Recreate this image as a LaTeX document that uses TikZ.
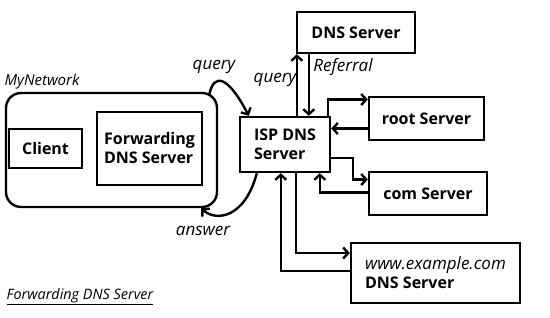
\documentclass[tikz,border=0pt]{standalone}
\usepackage{fontspec}
\setmainfont{Open Sans}
\usepackage{tikz}
\usetikzlibrary{calc, arrows.meta}

\tikzset{
    box/.style={draw, line width=2.4pt, font=\bfseries\fontsize{16}{19}\selectfont, inner sep=0pt},
    arr/.style={line width=2.4pt, -{Straight Barb[length=5pt, width=11pt]}},
    lbl/.style={font=\itshape\fontsize{17}{19}\selectfont, inner sep=0pt}
}

\begin{document}
\begin{tikzpicture}[x=1pt, y=-1pt]
    \useasboundingbox[fill=white] (0,0) rectangle (550,318);

    \node[box, rounded corners=15pt, minimum width=211pt, minimum height=114pt] (mynet) at (111.5,150) {};
    \node[box, minimum width=73pt, minimum height=39pt] (client) at (45.5,148.5) {Client};
    \node[box, minimum width=105pt, minimum height=73pt, align=left] (fwd) at (149.5,148.5) {Forwarding\\DNS Server};
    \node[box, minimum width=90pt, minimum height=55pt, align=left] (isp) at (285,144.5) {ISP DNS\\Server};
    \node[box, minimum width=118pt, minimum height=41pt] (topdns) at (356,32.5) {DNS Server};
    \node[box, minimum width=115pt, minimum height=43pt] (root) at (426.5,118.5) {root Server};
    \node[box, minimum width=118pt, minimum height=43pt] (com) at (428,193.5) {com Server};
    \node[box, minimum width=169pt, minimum height=60pt, align=left] (www) at (435.5,273)
        {{\mdseries\itshape\fontsize{17}{19}\selectfont www.example.com}\\DNS Server};

    \node[lbl, font=\itshape\fontsize{15}{17}\selectfont] (netname) at (42,82) {MyNetwork};
    \node[lbl] (q1) at (214,67) {query};
    \node[lbl] (q2) at (275,80) {query};
    \node[lbl] (ref) at (343,67) {Referral};
    \node[lbl] (ans) at (203,231) {answer};
    \node[lbl, font=\itshape\fontsize{14.4}{16}\selectfont] (caption) at (80,297) {\underline{Forwarding DNS Server}};

    \draw[arr] ($(mynet.north east)+(-9,3)$) .. controls (214,72) and (228,76) .. ($(isp.north west)+(10,0)$);
    \draw[arr] ($(isp.south west)+(18,0)$) .. controls (245,218) and (216,222) .. ($(mynet.south east)+(-17,0)$);

    \coordinate (up) at ($(isp.north west)+(58,0)$);
    \coordinate (down) at ($(isp.north west)+(70,0)$);
    \draw[arr] (up) -- (up |- topdns.south);
    \draw[arr] (down |- topdns.south) -- (down);

    \coordinate (rootin) at ($(root.west)+(0,-19)$);
    \coordinate (rootout) at ($(root.west)+(0,10)$);
    \draw[arr] ($(isp.north east)+(-3,0)$) |- (rootin);
    \draw[arr] (rootout) -- (isp.east |- rootout);

    \coordinate (comin) at ($(com.west)+(0,-14)$);
    \coordinate (comout) at ($(com.west)+(0,-1)$);
    \draw[arr] ($(isp.east)+(0,13.5)$) -- ++(22,0) |- (comin);
    \draw[arr] (comout) -| ($(isp.south west)+(81,0)$);

    \coordinate (wwwin) at ($(www.west)+(0,-20)$);
    \coordinate (wwwout) at ($(www.west)+(0,-2)$);
    \draw[arr] ($(isp.south west)+(57,0)$) |- (wwwin);
    \draw[arr] (wwwout) -| ($(isp.south west)+(42,0)$);
\end{tikzpicture}
\end{document}
